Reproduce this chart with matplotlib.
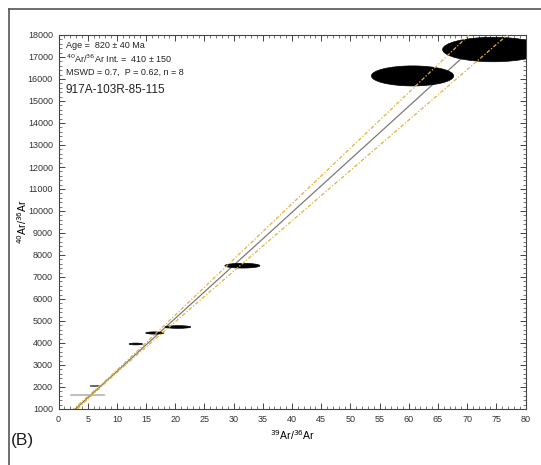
import numpy as np
import matplotlib
matplotlib.use("Agg")
import matplotlib.pyplot as plt
from matplotlib.patches import Ellipse
from matplotlib.lines import Line2D
from matplotlib.ticker import MultipleLocator

plt.rcParams['font.family'] = ['Liberation Sans', 'DejaVu Sans']

# ---- data ----
x_center = [74.5, 60.65, 31.5, 20.45, 16.5, 13.25, 6.25, 5.0]
y_center = [17340, 16140, 7514, 4727, 4455, 3955, 2045, 1636]
x_halfwidth = [8.7, 7.05, 3.0, 2.2, 1.55, 1.15, 0.85, 3.0]
y_halfheight = [555, 455, 107, 60, 50, 40, 28, 8]
ellipse_colors = ['black', 'black', 'black', 'black', 'black', 'black', '#555555', '#aaaaaa']

fit_intercept = 300
fit_slope = 241.0
env_h0 = 50.0
env_slope = 12.0
env_xc = 8.0

x_ticks = list(range(0, 81, 5))
y_ticks = list(range(1000, 18001, 1000))

info_lines = ["Age =  820 \u00b1 40 Ma",
              "$^{40}$Ar/$^{36}$Ar Int. =  410 \u00b1 150",
              "MSWD = 0.7,  P = 0.62, n = 8"]
sample_name = "917A-103R-85-115"
panel_label = "(B)"

# ---- figure ----
W, H = 541, 465
fig = plt.figure(figsize=(W / 100, H / 100), dpi=100)
ax = fig.add_axes([58.5 / W, 1 - 409 / H, 467 / W, 374 / H])

# outer frame (top and left visible)
fig.add_artist(Line2D([9 / W, 9 / W], [0, 1 - 9 / H], transform=fig.transFigure,
                      color='#555555', lw=1.2))
fig.add_artist(Line2D([9 / W, 1], [1 - 9 / H, 1 - 9 / H], transform=fig.transFigure,
                      color='#555555', lw=1.2))

xs = np.linspace(0, 80, 400)
yfit = fit_intercept + fit_slope * xs
h = np.sqrt(env_h0 ** 2 + (env_slope * (xs - env_xc)) ** 2)

ax.plot(xs, yfit, color='#7a7a7a', lw=0.9, zorder=2)

for xc, yc, hw, hh, c in zip(x_center, y_center, x_halfwidth, y_halfheight, ellipse_colors):
    ax.add_patch(Ellipse((xc, yc), 2 * hw, 2 * hh, facecolor=c, edgecolor=c,
                         lw=0.5, zorder=3))

env_style = dict(color='#e2b23c', lw=0.9, ls=(0, (3, 1.5, 1, 1.5)), zorder=4)
ax.plot(xs, yfit + h, **env_style)
ax.plot(xs, yfit - h, **env_style)

ax.set_xlim(0, 80)
ax.set_ylim(1000, 18000)
ax.set_xticks(x_ticks)
ax.set_yticks(y_ticks)
ax.xaxis.set_minor_locator(MultipleLocator(1))
ax.yaxis.set_minor_locator(MultipleLocator(200))
ax.tick_params(which='both', direction='in', top=True, right=True,
               labelsize=6.5, labelcolor='#333333', color='#444444', pad=4)
ax.tick_params(which='major', length=4, width=0.7)
ax.tick_params(which='minor', length=2, width=0.5)
for s in ax.spines.values():
    s.set_color('#444444')
    s.set_linewidth(0.8)

ax.set_xlabel("$^{39}$Ar/$^{36}$Ar", fontsize=7.5, labelpad=3)
ax.set_ylabel("$^{40}$Ar/$^{36}$Ar", fontsize=7.5, labelpad=-1)

ys = [0.971, 0.936, 0.901]
for t, yy in zip(info_lines, ys):
    ax.text(0.0155, yy, t, transform=ax.transAxes, fontsize=6.5,
            va='center', ha='left', color='#222222')
ax.text(0.0155, 0.853, sample_name, transform=ax.transAxes, fontsize=8.5,
        va='center', ha='left', color='#222222')

fig.text(11 / W, 1 - 440 / H, panel_label, fontsize=12.5, va='center', ha='left',
         color='#222222')

fig.savefig("out.png", dpi=100)
